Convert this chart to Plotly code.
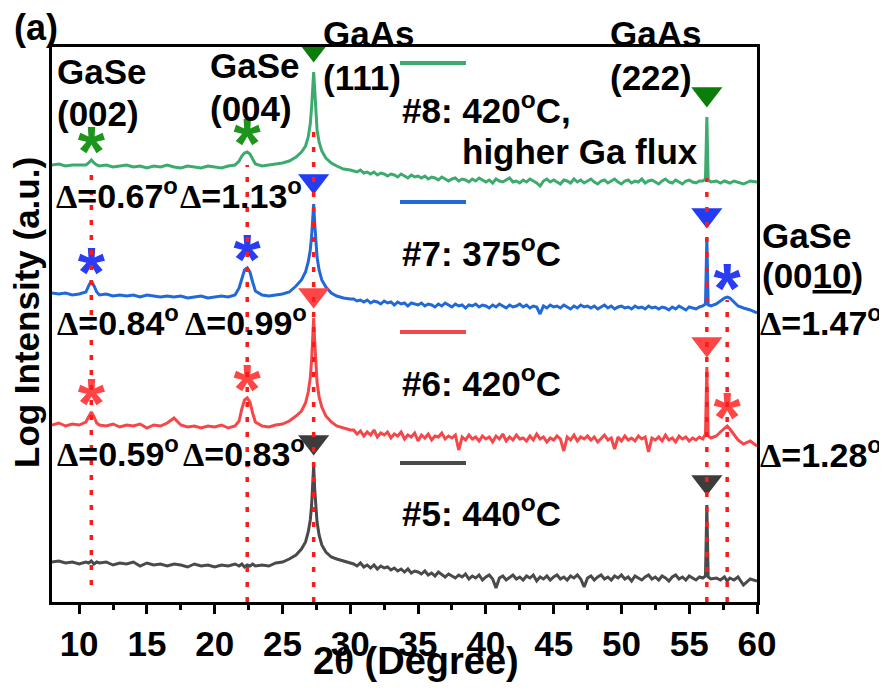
import plotly.graph_objects as go

# ---------------- data (y = offset log intensity, a.u.) -------------
two_theta = [
    8.0, 8.5, 9.0, 9.5, 10.0, 10.5,
    10.7, 10.9, 11.1, 11.3,
    11.5, 12.0, 12.5, 13.0, 13.5, 14.0, 14.5, 15.0, 15.5, 16.0, 16.5, 17.0, 17.5, 18.0,
    18.5, 19.0, 19.5, 20.0, 20.5, 21.0, 21.5,
    21.8, 22.0, 22.2, 22.4, 22.6, 22.8, 23.0,
    23.5, 24.0, 24.5, 25.0, 25.5, 26.0, 26.4, 26.7, 26.9, 27.05, 27.15, 27.22, 27.3,
    27.38, 27.45, 27.55, 27.7, 27.9, 28.2, 28.6, 29.0, 29.5, 30.0,
    30.25, 30.5, 30.75, 31.0, 31.25, 31.5, 31.75, 32.0, 32.25, 32.5,
    32.75, 33.0, 33.25, 33.5, 33.75, 34.0, 34.25, 34.5, 34.75, 35.0,
    35.25, 35.5, 35.75, 36.0, 36.25, 36.5, 36.75, 37.0, 37.25, 37.5,
    37.75, 38.0, 38.25, 38.5, 38.75, 39.0, 39.25, 39.5, 39.75, 40.0,
    40.25, 40.5, 40.75, 41.0, 41.25, 41.5, 41.75, 42.0, 42.25, 42.5,
    42.75, 43.0, 43.25, 43.5, 43.75, 44.0, 44.25, 44.5, 44.75, 45.0,
    45.25, 45.5, 45.75, 46.0, 46.25, 46.5, 46.75, 47.0, 47.25, 47.5,
    47.75, 48.0, 48.25, 48.5, 48.75, 49.0, 49.25, 49.5, 49.75, 50.0,
    50.25, 50.5, 50.75, 51.0, 51.25, 51.5, 51.75, 52.0, 52.25, 52.5,
    52.75, 53.0, 53.25, 53.5, 53.75, 54.0, 54.25, 54.5, 54.75, 55.0,
    55.25, 55.5, 55.75,
    56.0, 56.2, 56.3, 56.4, 56.6, 57.0, 57.3, 57.6, 57.8, 58.0, 58.3, 58.6, 59.0, 59.5, 60.0,
]

# #8: 420 C, higher Ga flux
log_int_s8 = [
    437, 438, 436, 437, 437, 437,
    439, 442, 439, 437,
    436, 437, 435, 436, 437, 435, 436, 434, 436, 435, 437, 435, 434, 436,
    435, 434, 436, 435, 434, 436, 437,
    441, 446, 449, 450, 448, 443, 438,
    436, 437, 438, 439, 441, 445, 450, 456, 465, 478, 495, 515, 530,
    512, 490, 472, 460, 451, 444, 439, 436, 433, 432,
    431, 430, 432, 429, 430, 428, 430, 427, 429, 428,
    426, 428, 427, 425, 428, 426, 424, 427, 425, 426,
    424, 426, 423, 425, 424, 422, 425, 423, 421, 423,
    424, 421, 423, 422, 420, 423, 421, 424, 422, 420,
    422, 419, 423, 421, 420, 422, 424, 420, 421, 419,
    422, 420, 423, 421, 419, 416, 421, 423, 420, 422,
    420, 418, 422, 421, 419, 423, 420, 422, 419, 421,
    423, 420, 418, 421, 422, 419, 421, 423, 420, 418,
    421, 422, 419, 421, 420, 423, 419, 421, 422, 420,
    418, 421, 423, 420, 419, 422, 420, 418, 421, 422,
    420, 419, 421,
    421, 423, 485, 422, 420, 421, 419, 421, 420, 419, 421, 420, 418, 421, 420,
]

# #7: 375 C
log_int_s7 = [
    309, 308, 309, 307, 308, 310,
    316, 321, 316, 310,
    307, 308, 306, 307, 306, 307, 305, 307, 306, 305, 306, 305, 306, 304,
    305, 306, 304, 305, 306, 305, 307,
    314, 324, 332, 334, 330, 320, 311,
    307, 306, 307, 308, 310, 316, 322, 330, 340, 352, 366, 382, 398,
    378, 360, 345, 332, 322, 315, 309, 306, 304, 303,
    303, 301, 302, 300, 302, 299, 301, 300, 298, 301,
    299, 300, 297, 300, 298, 299, 296, 299, 298, 297,
    299, 296, 298, 297, 295, 298, 296, 299, 297, 295,
    298, 296, 297, 294, 297, 296, 298, 295, 297, 296,
    294, 297, 295, 298, 296, 294, 297, 295, 296, 298,
    295, 297, 294, 296, 295, 288, 296, 294, 297, 295,
    296, 294, 297, 295, 293, 296, 294, 297, 295, 296,
    294, 296, 293, 295, 297, 294, 296, 293, 295, 296,
    294, 295, 293, 296, 294, 295, 293, 296, 294, 295,
    293, 295, 294, 292, 295, 293, 296, 294, 292, 295,
    294, 293, 295,
    296, 298, 364, 297, 296, 298, 301, 304, 305, 304, 300, 296, 294, 292, 289,
]

# #6: 420 C
log_int_s6 = [
    177, 179, 176, 178, 177, 180,
    185, 190, 185, 179,
    177, 176, 178, 175, 177, 176, 178, 174, 177, 176, 179, 184, 177, 175,
    176, 174, 176, 175, 177, 174, 176,
    181, 193, 202, 204, 200, 189, 180,
    176, 175, 177, 178, 181, 186, 191, 199, 210, 224, 242, 262, 284,
    260, 238, 220, 205, 195, 186, 180, 176, 174, 172,
    172, 168, 171, 166, 170, 167, 172, 165, 169, 167,
    170, 164, 168, 166, 170, 163, 167, 165, 169, 161,
    167, 164, 168, 162, 166, 165, 169, 163, 166, 164,
    167, 152, 165, 162, 167, 163, 165, 161, 166, 163,
    165, 160, 166, 163, 168, 161, 165, 162, 167, 163,
    164, 161, 166, 162, 168, 163, 165, 160, 164, 162,
    166, 163, 151, 165, 162, 167, 161, 165, 163, 166,
    162, 165, 160, 164, 167, 162, 164, 153, 165, 161,
    166, 162, 164, 161, 166, 163, 165, 150, 164, 162,
    165, 161, 167, 162, 164, 160, 166, 163, 165, 161,
    164, 162, 165,
    163, 168, 235, 166, 164, 166, 170, 174, 176, 173, 167, 162, 158, 161, 156,
]

# #5: 440 C
log_int_s5 = [
    40, 41, 39, 40, 38, 40,
    39, 41, 38, 40,
    39, 40, 37, 39, 38, 40, 36, 39, 37, 38, 36, 38, 37, 35,
    38, 36, 37, 35, 37, 36, 38,
    36, 38, 35, 37, 36, 38, 36,
    37, 36, 39, 40, 43, 47, 53, 60, 70, 82, 97, 115, 137,
    112, 94, 80, 67, 57, 50, 45, 43, 41, 39,
    38, 36, 39, 35, 37, 34, 37, 33, 36, 34,
    35, 32, 34, 31, 33, 30, 33, 29, 31, 30,
    28, 31, 27, 29, 26, 30, 27, 25, 28, 26,
    24, 27, 25, 28, 23, 26, 24, 27, 22, 25,
    27, 23, 14, 24, 26, 22, 25, 27, 23, 25,
    22, 26, 24, 27, 21, 25, 23, 26, 22, 25,
    27, 23, 25, 22, 26, 24, 27, 23, 15, 24,
    26, 22, 25, 27, 23, 25, 22, 26, 24, 27,
    23, 25, 21, 26, 24, 22, 25, 27, 23, 25,
    22, 26, 24, 21, 25, 27, 23, 25, 22, 26,
    24, 22, 25,
    24, 26, 97, 25, 23, 24, 22, 25, 21, 24, 22, 25, 17, 23, 21,
]

gase_peaks = [10.9, 22.4, 57.8]          # GaSe (002), (004), (0010)
gaas_peaks = [27.3, 56.3]                # GaAs (111), (222)
x_tick_vals = [10, 15, 20, 25, 30, 35, 40, 45, 50, 55, 60]

sample_names = ["#8: 420<sup>o</sup>C,", "#7: 375<sup>o</sup>C", "#6: 420<sup>o</sup>C", "#5: 440<sup>o</sup>C"]
sample_series = [log_int_s8, log_int_s7, log_int_s6, log_int_s5]
gase_marked = [[10.9, 22.4], [10.9, 22.4, 57.8], [10.9, 22.4, 57.8], []]
fwhm_left = [["0.67", "1.13"], ["0.84", "0.99"], ["0.59", "0.83"]]
fwhm_right = ["1.47", "1.28"]

# ---------------- styles ----------------
line_colors = ["#3DAB6E", "#2169D9", "#F5474A", "#4A4A4A"]
tri_colors = ["#0B7D0B", "#213CF2", "#FF4646", "#3C3C3C"]
ast_colors = ["#1C951C", "#2B3CF5", "#FF4545", "#000000"]
FONT = "Liberation Sans"
OFF = 8                       # page body margin
W, H = 887 - OFF, 692 - OFF
L, T, R, B = 52, 47, 757, 602  # plot area in reference-page pixels


def pxx(px):
    return (px - L) / (R - L)


def pxy(py):
    return (B - py) / (B - T)


def local_max(series, x0, half=0.3):
    return max(v for x, v in zip(two_theta, series) if abs(x - x0) <= half)


fig = go.Figure()

for name, ys, col in zip(sample_names, sample_series, line_colors):
    fig.add_trace(go.Scatter(x=two_theta, y=ys, mode="lines", name=name,
                             line=dict(color=col, width=3), showlegend=False,
                             hoverinfo="skip"))

# GaAs triangles above the substrate peaks
TRI_OFFSET = 23
for ys, col in zip(sample_series, tri_colors):
    fig.add_trace(go.Scatter(
        x=gaas_peaks, y=[local_max(ys, p) + TRI_OFFSET for p in gaas_peaks],
        mode="markers", marker=dict(symbol="triangle-down", size=27, color=col,
                                    line=dict(width=0)),
        showlegend=False, hoverinfo="skip"))

# GaSe asterisks
AST_OFFSET = 2
for ys, col, marks in zip(sample_series, ast_colors, gase_marked):
    if not marks:
        continue
    fig.add_trace(go.Scatter(
        x=marks, y=[local_max(ys, p) + AST_OFFSET for p in marks],
        mode="text", text=["<b>*</b>"] * len(marks), textposition="middle center",
        textfont=dict(family=FONT, size=70, color=col),
        showlegend=False, hoverinfo="skip"))

# red dotted guide lines (pixel extents of each guide)
guide_tops = {10.9: 167, 22.4: 165, 27.3: 130, 56.3: 178, 57.8: 300}
guide_bottoms = {10.9: 585, 22.4: 602, 27.3: 602, 56.3: 602, 57.8: 602}
shapes = []
for p in gase_peaks + gaas_peaks:
    shapes.append(dict(type="line", xref="x", yref="y", x0=p, x1=p,
                       y0=B - guide_bottoms[p], y1=B - guide_tops[p],
                       line=dict(color="#FF1A1A", width=3.5, dash="5px,10px"),
                       layer="above"))

# legend line samples
legend_line_py = [63, 202, 332, 463]
for py, col in zip(legend_line_py, line_colors):
    shapes.append(dict(type="line", xref="paper", yref="paper",
                       x0=pxx(400), x1=pxx(466), y0=pxy(py), y1=pxy(py),
                       line=dict(color=col, width=4), layer="above"))

annotations = []
TXT = 35


def ann(text, px, py, size=TXT, xanchor="left", angle=0):
    annotations.append(dict(text="<b>" + text + "</b>", x=pxx(px), y=pxy(py),
                            xref="paper", yref="paper", xanchor=xanchor,
                            yanchor="middle", showarrow=False, textangle=angle,
                            font=dict(family=FONT, size=size, color="black")))


DELTA = '<span style="font-family:Liberation Serif">Δ</span>'

ann("(a)", 36, 28, size=36, xanchor="center")
ann("GaSe", 55, 71)
ann("(002)", 55, 113)
ann("GaSe", 208, 66)
ann("(004)", 208, 109)
ann("GaAs", 321, 33)
ann("(111)", 321, 77)
ann("GaAs", 608, 33)
ann("(222)", 608, 77)
ann("GaSe", 760, 235)
ann("(00<u>10</u>)", 760, 275)

DSZ = 34
left_rows_py = [193, 320, 451]
left_cols_px = [[54, 178], [55, 183], [55, 181]]
for vals, py, cols in zip(fwhm_left, left_rows_py, left_cols_px):
    for v, px in zip(vals, cols):
        ann(DELTA + "=" + v + "<sup>o</sup>", px, py, size=DSZ)
for v, py in zip(fwhm_right, [320, 452]):
    ann(DELTA + "=" + v + "<sup>o</sup>", 758, py, size=DSZ)

legend_text_py = [108, 251, 381, 511]
for name, py in zip(sample_names, legend_text_py):
    ann(name, 400, py)
ann("higher Ga flux", 460, 152)

ann('2<span style="font-family:Liberation Serif">θ</span> (Degree)', 416, 661, size=38,
    xanchor="center")
ann("Log Intensity (a.u.)", 26, 313, size=35, xanchor="center", angle=-90)

fig.update_layout(
    width=W, height=H,
    margin=dict(l=L - OFF, r=W - (R - OFF), t=T - OFF, b=H - (B - OFF)),
    paper_bgcolor="white", plot_bgcolor="white",
    shapes=shapes, annotations=annotations,
    font=dict(family=FONT, color="black"),
    showlegend=False,
)
fig.update_xaxes(range=[8, 60], showline=True, linecolor="black", linewidth=3,
                 mirror=True, ticks="outside", ticklen=9, tickwidth=3,
                 tickcolor="black", tickmode="array", tickvals=x_tick_vals,
                 tickfont=dict(family=FONT, size=35, color="black", weight="bold"),
                 minor=dict(ticks="outside", ticklen=5, tickwidth=3, tickcolor="black",
                            dtick=2.5, tick0=0),
                 showgrid=False, zeroline=False)
fig.update_yaxes(range=[0, B - T], showline=True, linecolor="black", linewidth=3,
                 mirror=True, ticks="", showticklabels=False, showgrid=False,
                 zeroline=False)

fig.write_html("out.html")
